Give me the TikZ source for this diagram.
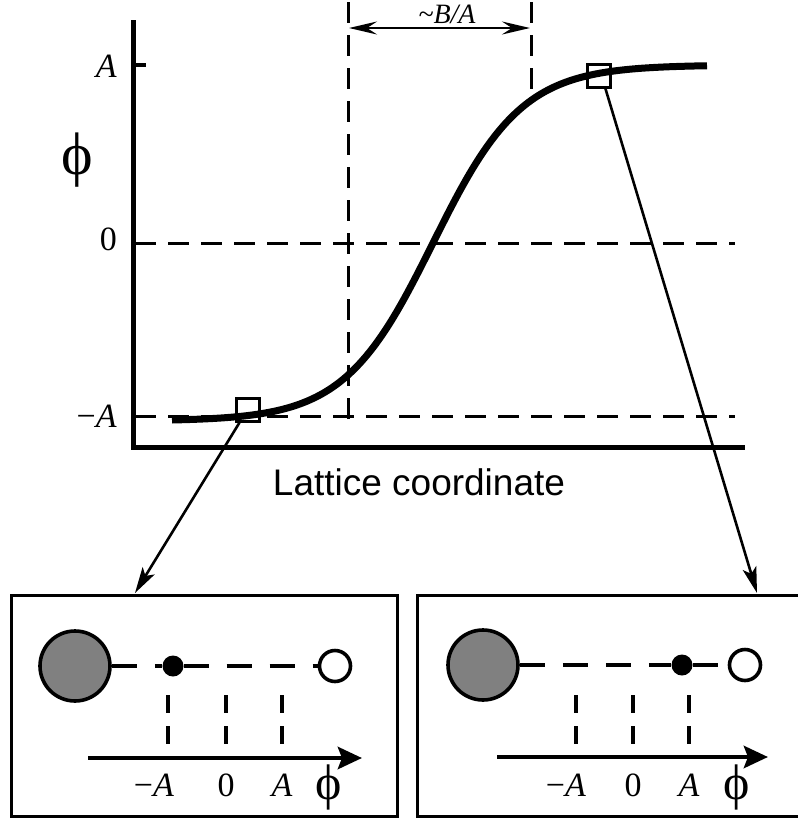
\documentclass[tikz,border=0pt]{standalone}
\usepackage{fontspec}
\setmainfont{Liberation Serif}
\newfontfamily\labelsans{Liberation Sans}
\usetikzlibrary{arrows.meta}

\definecolor{bulkgray}{RGB}{128,128,128}

\begin{document}
\begin{tikzpicture}[x=1pt,y=-1pt,>=Stealth,
  axis/.style={line width=5pt},
  guide/.style={line width=3pt,dash pattern=on 21pt off 12pt},
  marker/.style={draw,line width=2.4pt,minimum size=23pt,inner sep=0pt},
  zoomline/.style={->,line width=2.6pt,>={Stealth[length=26pt,width=14pt,inset=6pt]}},
  lbl/.style={font=\fontsize{34}{36}\selectfont,inner sep=0pt},
  boxlbl/.style={font=\fontsize{34}{36}\selectfont,inner sep=0pt,anchor=base},
  phisym/.style={inner sep=0pt},
  panel/.style={draw,line width=3pt,minimum width=386pt,minimum height=221pt,anchor=north west},
  bulk/.style={circle,draw,line width=3.6pt,fill=bulkgray,minimum size=70pt,inner sep=0pt},
  atom/.style={circle,fill=black,minimum size=21pt,inner sep=0pt},
  site/.style={circle,draw,line width=3.6pt,fill=white,minimum size=31pt,inner sep=0pt},
  bond/.style={line width=3.4pt,dash pattern=on 25pt off 18pt},
  proj/.style={line width=3.4pt,dash pattern=on 18pt off 13pt},
  phiaxis/.style={->,line width=4.8pt,>={Stealth[length=24pt,width=22pt,inset=4pt]}}]
  \useasboundingbox (0,0) rectangle (798,820);

  % profile phi(x)
  \draw[axis] (133,20) -- (133,447) -- (745,447);
  \draw[line width=3.5pt] (133,65) -- (146,65);
  \node[lbl,anchor=base east] (labA) at (117,77) {\textit{A}};
  \node[lbl,anchor=base east] (lab0) at (117,250) {0};
  \node[lbl,anchor=base east] (labmA) at (117,427) {−\textit{A}};
  \node[phisym,font=\fontsize{60}{60}\selectfont] (phiY) at (77,160) {\symbol{"03D5}};
  \draw[guide] (135,243) -- (735,243);
  \draw[guide] (135,416) -- (735,416);
  \draw[guide] (348,2) -- (348,425);
  \draw[guide] (531,2) -- (531,100);
  \draw[<->,line width=2.8pt,>={Stealth[length=28pt,width=13pt,inset=10pt]}] (349,28) -- (530,28);
  \node[font=\itshape\fontsize{28}{30}\selectfont,inner sep=0pt,anchor=base] (width) at (447,23) {\textasciitilde B/A};
  \draw[line width=7pt] plot[domain=172:707,samples=120,smooth] (\x,{243-178*tanh((\x-433)/89)});
  \node[marker] (sqL) at (248,410) {};
  \node[marker] (sqR) at (599,76) {};
  \node[font=\labelsans\fontsize{37}{40}\selectfont,inner sep=0pt] (xlab) at (419,482) {Lattice coordinate};

  % zoomed panels
  \node[panel] (boxL) at (10,594) {};
  \node[panel] (boxR) at (416,594) {};
  \coordinate (tipL) at (135,593);
  \coordinate (tipR) at (757,593);
  \draw[zoomline] (sqL.236) -- (tipL);
  \draw[zoomline] (sqR.-63) -- (tipR);

  % left panel: phi near -A
  \node[bulk] (bulkL) at (75,666) {};
  \node[atom] (atomL) at (173,666) {};
  \node[site] (siteL) at (335,666) {};
  \draw[bond] (bulkL.east) -- (atomL.west);
  \draw[bond] (atomL.east) -- (siteL.west);
  \draw[phiaxis] (88,758) -- (362,758);
  \foreach \px/\txt [count=\i] in {168/−\textit{A},226/0,282/\textit{A}} {
    \draw[proj] (\px,695) -- (\px,758);
    \node[boxlbl] (tickL\i) at ({\px-(\i==1)*14},796) {\txt};
  }
  \node[phisym,font=\fontsize{50}{50}\selectfont,anchor=base] (phiL) at (329,799) {\symbol{"03D5}};

  % right panel: phi near A
  \node[bulk] (bulkR) at (483,665) {};
  \node[atom] (atomR) at (682,665) {};
  \node[site] (siteR) at (745,665) {};
  \draw[bond] (bulkR.east) -- (atomR.west);
  \draw[bond] (atomR.east) -- (siteR.west);
  \draw[phiaxis] (497,757) -- (768,757);
  \foreach \px/\txt [count=\i] in {576/−\textit{A},633/0,689/\textit{A}} {
    \draw[proj] (\px,695) -- (\px,757);
    \node[boxlbl] (tickR\i) at ({\px-(\i==1)*10},796) {\txt};
  }
  \node[phisym,font=\fontsize{50}{50}\selectfont,anchor=base] (phiR) at (737,799) {\symbol{"03D5}};
\end{tikzpicture}
\end{document}
